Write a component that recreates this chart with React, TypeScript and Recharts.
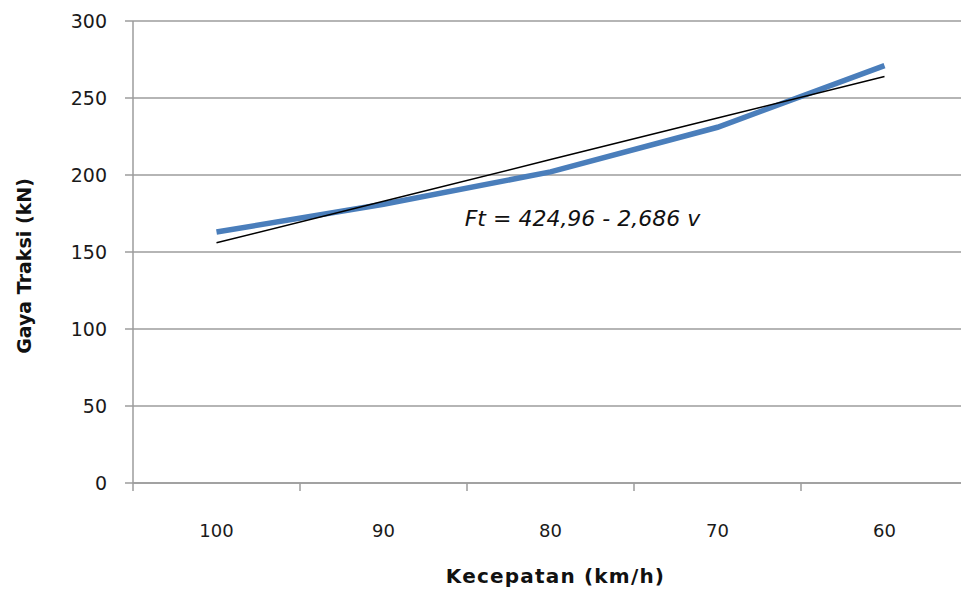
import React from "react";
import {
  LineChart,
  Line,
  XAxis,
  YAxis,
  CartesianGrid,
  ReferenceDot,
  Label,
} from "recharts";

const speeds = ["100", "90", "80", "70", "60"];
const traction = [163, 181, 202, 231, 271];
const trend = [156, 183, 210, 237, 264];
const yTicks = [0, 50, 100, 150, 200, 250, 300];

const equation = "Ft = 424,96 - 2,686 v";
const xTitle = "Kecepatan (km/h)";
const yTitle = "Gaya Traksi (kN)";

const data = speeds.map((v, i) => ({
  v,
  ft: traction[i],
  trend: trend[i],
}));

const FONT = "'DejaVu Sans', Verdana, sans-serif";
const GRID = "#9c9c9c";

// Excel style: labels centred in the band, tick marks between categories
function XTick(props: any) {
  const { x, y, payload } = props;
  const half = payload?.offset ?? 0;
  return (
    <g>
      <line x1={x - half} x2={x - half} y1={y} y2={y + 8} stroke={GRID} strokeWidth={1.5} />
      <text
        x={x}
        y={y + 47}
        textAnchor="middle"
        dominantBaseline="central"
        fontFamily={FONT}
        fontSize={18}
        fill="#1a1a1a"
      >
        {payload.value}
      </text>
    </g>
  );
}

export default function App() {
  return (
    <div
      style={{
        position: "absolute",
        left: 0,
        top: 0,
        width: 961,
        height: 590,
        overflow: "hidden",
        background: "#fff",
      }}
    >
      <LineChart
        width={980}
        height={590}
        data={data}
        margin={{ top: 21, right: 12, left: 0, bottom: 0 }}
      >
        <CartesianGrid vertical={false} stroke={GRID} strokeWidth={1.5} />
        <XAxis
          dataKey="v"
          scale="band"
          height={107}
          axisLine={{ stroke: GRID, strokeWidth: 1.5 }}
          tickLine={false}
          tickSize={0}
          tickMargin={0}
          tick={<XTick />}
          interval={0}
        >
          <Label
            content={({ viewBox }: any) => (
              <text
                x={viewBox.x + viewBox.width / 2 + 5}
                y={viewBox.y + 93}
                textAnchor="middle"
                dominantBaseline="central"
                fontFamily={FONT}
                fontWeight="bold"
                fontSize={20}
                letterSpacing={1.2}
                fill="#111"
              >
                {xTitle}
              </text>
            )}
          />
        </XAxis>
        <YAxis
          width={133}
          domain={[0, 300]}
          ticks={yTicks}
          interval={0}
          axisLine={{ stroke: GRID, strokeWidth: 1.5 }}
          tickLine={{ stroke: GRID, strokeWidth: 1.5 }}
          tickSize={8}
          tickMargin={18}
          tick={{ fontFamily: FONT, fontSize: 19, fill: "#1a1a1a" }}
        >
          <Label
            content={({ viewBox }: any) => {
              const cx = viewBox.x + 24;
              const cy = viewBox.y + viewBox.height / 2 + 14;
              return (
                <text
                  x={cx}
                  y={cy}
                  transform={`rotate(-90, ${cx}, ${cy})`}
                  textAnchor="middle"
                  dominantBaseline="central"
                  fontFamily={FONT}
                  fontWeight="bold"
                  fontSize={19}
                  fill="#111"
                >
                  {yTitle}
                </text>
              );
            }}
          />
        </YAxis>
        <Line
          type="linear"
          dataKey="ft"
          stroke="#4a7ebb"
          strokeWidth={5.5}
          dot={false}
          isAnimationActive={false}
        />
        <Line
          type="linear"
          dataKey="trend"
          stroke="#000"
          strokeWidth={1.5}
          dot={false}
          isAnimationActive={false}
        />
        <ReferenceDot
          x="80"
          y={172}
          r={0}
          fill="none"
          stroke="none"
          label={({ viewBox }: any) => (
            <text
              x={viewBox.x + 32}
              y={viewBox.y}
              textAnchor="middle"
              dominantBaseline="central"
              fontFamily={FONT}
              fontStyle="italic"
              fontSize={22}
              fill="#111"
            >
              {equation}
            </text>
          )}
        />
      </LineChart>
    </div>
  );
}
